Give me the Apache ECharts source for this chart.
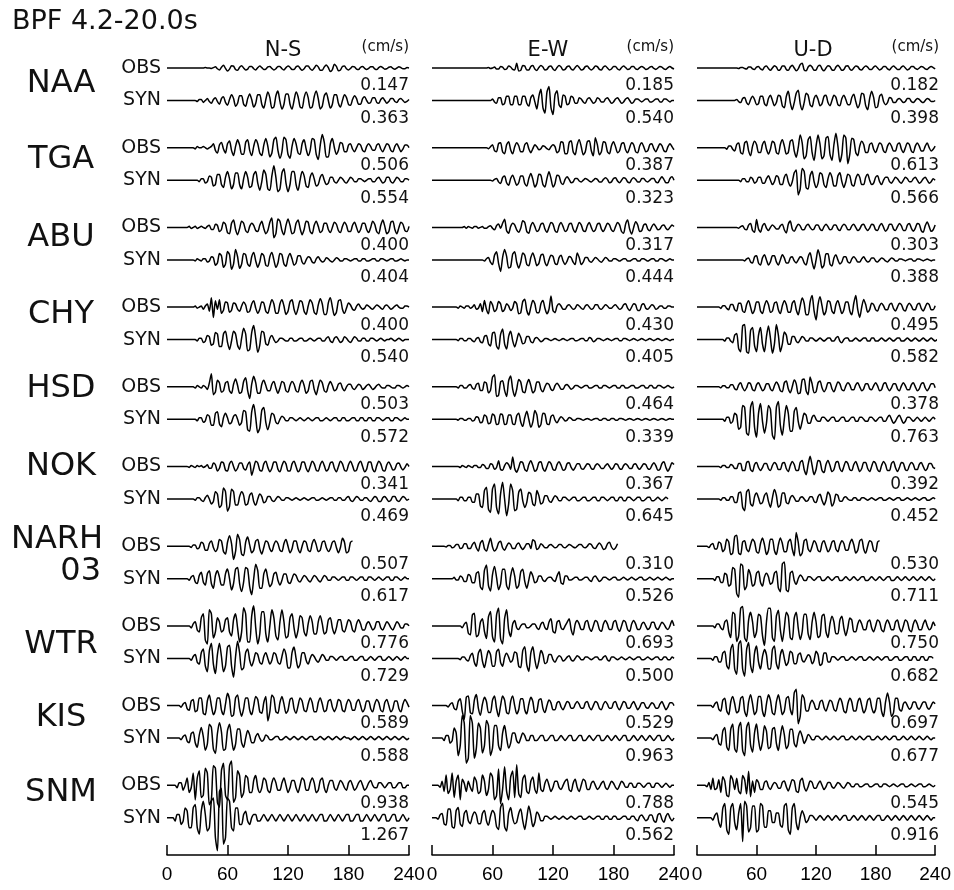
<!DOCTYPE html>
<html>
<head>
<meta charset="utf-8">
<title>BPF 4.2-20.0s</title>
<script src="https://cdn.jsdelivr.net/npm/echarts@6/dist/echarts.min.js"></script>
<style>
  html, body { margin: 0; padding: 0; background: #fff; }
  #chart { width: 954px; height: 890px; }
</style>
</head>
<body>
<div id="chart"></div>
<script>
const stations = ["NAA", "TGA", "ABU", "CHY", "HSD", "NOK", "NARH 03", "WTR", "KIS", "SNM"];
const components = ["N-S", "E-W", "U-D"];
const tickValues = [0, 60, 120, 180, 240];
const sampleStep = 2; // seconds between samples

// peak velocity of each trace (cm/s)
const nsObsPeak = [0.147, 0.506, 0.400, 0.400, 0.503, 0.341, 0.507, 0.776, 0.589, 0.938];
const nsSynPeak = [0.363, 0.554, 0.404, 0.540, 0.572, 0.469, 0.617, 0.729, 0.588, 1.267];
const ewObsPeak = [0.185, 0.387, 0.317, 0.430, 0.464, 0.367, 0.310, 0.693, 0.529, 0.788];
const ewSynPeak = [0.540, 0.323, 0.444, 0.405, 0.339, 0.645, 0.526, 0.500, 0.963, 0.562];
const udObsPeak = [0.182, 0.613, 0.303, 0.495, 0.378, 0.392, 0.530, 0.750, 0.697, 0.545];
const udSynPeak = [0.398, 0.566, 0.388, 0.582, 0.763, 0.452, 0.711, 0.682, 0.677, 0.916];

// waveforms, one sample every 2 s, in tenths of the trace peak
const nsObs = [
  [0,0,0,0,0,0,0,0,0,0,0,0,0,0,0,0,0,0,0,1,0,0,-1,1,3,-2,-5,2,7,-1,-8,-3,6,5,-4,-6,2,6,0,-5,-3,4,4,-2,-5,1,5,1,-4,-3,3,4,-1,-5,-2,4,4,-2,-5,1,5,2,-4,-4,3,5,-1,-6,-2,5,5,-2,-6,0,7,3,-6,-6,3,8,1,-9,-4,10,4,-7,-5,4,5,-2,-5,-1,4,3,-3,-4,2,4,-1,-4,-1,3,3,-2,-4,1,4,1,-3,-2,2,3,-1,-3,0,3,1,-2,-2,1,0],
  [0,0,0,0,0,0,0,0,0,0,0,0,0,0,-1,1,0,0,1,0,-1,0,1,3,-2,-4,2,4,-1,-4,3,5,-2,-6,1,6,2,-5,-5,4,6,-2,-6,1,6,3,-4,-6,2,7,1,-7,-4,6,8,-2,-8,-3,8,6,-5,-8,1,7,3,-4,-5,3,6,-1,-6,-2,7,6,-5,-9,2,10,4,-7,-7,3,7,0,-5,-2,4,3,-3,-3,2,3,-1,-3,0,3,2,-2,-3,1,3,1,-2,-2,2,3,-1,-3,0,3,2,-2,-3,1,3,0,-3,-1,2,2,0],
  [0,0,0,0,0,0,0,0,0,0,0,1,-1,0,1,-1,0,1,0,-1,1,2,-2,-2,3,2,-4,-2,5,3,-5,-6,4,7,-2,-7,-1,6,4,-3,-5,1,4,2,-3,-4,2,6,-1,-6,-3,5,9,-10,-6,8,6,-3,-7,2,8,2,-6,-5,4,7,-1,-7,-2,6,5,-4,-6,2,6,1,-5,-3,4,4,-2,-5,0,5,3,-3,-5,1,5,2,-4,-4,2,5,0,-5,-2,4,4,-2,-5,0,6,3,-4,-6,2,7,1,-6,-4,5,6,-2,-6,0,5,3,-3,-4,1],
  [0,0,0,0,0,0,0,0,0,0,0,0,0,0,1,-1,0,1,-2,1,3,-4,9,-10,6,-2,7,-6,-3,5,4,-5,-3,4,3,-2,-4,1,5,2,-5,-4,3,6,-1,-6,-2,5,4,-4,-6,1,7,3,-6,-6,3,7,1,-7,-4,5,7,-2,-7,-1,6,5,-4,-7,1,7,4,-5,-7,2,8,3,-7,-7,4,9,0,-8,-5,6,7,-2,-6,-1,4,2,-2,-3,1,3,0,-2,-1,2,1,-1,-2,0,2,1,-1,-2,1,2,0,-2,-1,1,2,0,-1,-1,1,1,0],
  [0,0,0,0,0,0,0,0,0,0,0,0,0,0,-1,1,0,-1,1,0,-2,3,10,-6,-4,5,3,-4,-3,3,4,-3,-5,2,6,1,-5,-4,4,7,-3,-9,2,8,3,-5,-5,2,5,1,-3,-3,2,4,-1,-5,-1,4,3,-3,-4,1,4,2,-3,-4,2,5,1,-5,-3,4,5,-2,-6,0,5,3,-3,-4,1,4,1,-3,-2,2,3,-1,-3,0,2,2,-1,-2,0,2,1,-2,-1,1,2,0,-2,-1,1,2,0,-1,-1,1,1,0,-1,-1,1,1,0,-1,0,1,0],
  [0,0,0,0,0,0,0,0,0,0,0,-1,1,0,-1,1,0,1,-1,0,2,-2,-2,4,2,-5,-2,5,4,-4,-5,3,6,0,-5,-2,4,4,-2,-4,2,5,-10,-2,6,4,-4,-5,3,6,-1,-6,-2,5,5,-3,-6,1,6,3,-5,-5,3,6,0,-6,-3,5,5,-2,-6,0,6,3,-4,-5,2,6,1,-5,-3,4,5,-2,-6,0,6,3,-4,-5,2,6,1,-5,-4,3,6,0,-6,-3,5,5,-3,-6,1,6,3,-4,-5,2,5,1,-4,-3,3,4,-1,-4,-1,3,0],
  [0,0,0,0,0,0,0,0,0,0,0,0,-1,1,1,-2,-1,3,2,-3,-3,2,4,-1,-4,-2,5,4,-4,-6,3,8,2,-10,-4,9,5,-6,-7,3,7,1,-5,-3,4,5,-2,-6,-1,4,3,-2,-4,1,4,2,-3,-4,2,5,0,-5,-2,4,4,-2,-5,0,4,3,-3,-4,2,5,1,-4,-3,3,4,-1,-4,-2,3,4,-1,-5,-1,6,3,-5,-4,3,4],
  [0,0,0,0,0,0,0,0,0,0,0,0,-1,1,2,-2,-3,4,6,-7,-9,8,6,-6,-3,4,2,-3,-2,3,4,-3,-5,3,6,-1,-8,-3,9,6,-8,-8,5,10,-1,-9,-4,7,7,-4,-8,0,8,4,-5,-7,2,8,2,-6,-5,4,6,-1,-6,-2,5,4,-3,-5,1,5,2,-4,-4,2,5,1,-4,-3,3,4,-1,-4,-1,3,3,-2,-3,0,3,2,-2,-3,1,3,1,-2,-2,1,2,0,-2,-1,2,2,-1,-2,0,2,1,-1,-2,0,2,1,-1,-1,1,1,0],
  [0,0,0,0,0,0,0,-1,1,2,-2,-3,3,4,-4,-3,5,5,-5,-6,3,7,0,-6,-3,5,5,-3,-6,1,8,4,-7,-6,5,7,-2,-7,-2,5,5,-3,-6,0,6,4,-4,-5,2,6,-10,-4,7,5,-4,-5,2,6,1,-5,-3,4,5,-2,-5,0,5,3,-3,-4,1,5,2,-4,-4,2,5,1,-4,-3,3,4,-1,-4,-1,4,3,-3,-4,1,4,2,-3,-3,2,4,0,-4,-2,3,3,-2,-4,1,4,2,-3,-4,2,4,0,-4,-2,3,3,-2,-4,1,4,2,-1],
  [0,0,0,0,0,-1,1,1,-2,0,3,-3,-1,5,-6,3,6,-5,-4,7,5,-8,-6,8,7,-7,-9,6,9,-4,-6,8,10,-7,-5,6,4,-5,-3,4,3,-3,-3,2,4,-1,-3,-1,3,2,-2,-3,1,3,1,-2,-2,1,3,0,-3,-1,2,2,-1,-3,0,3,2,-2,-2,1,3,1,-3,-2,2,3,-1,-3,0,2,2,-1,-2,0,2,1,-1,-2,1,2,0,-2,-1,1,2,0,-2,-1,1,2,0,-1,-1,1,1,0,-1,0,1,1,-1,-1,0,1,1,-1,-1,0,0]
];
const nsSyn = [
  [0,0,0,0,0,0,0,0,0,0,0,0,0,0,0,-1,1,1,-2,0,2,-1,-3,1,3,-1,-4,2,4,-2,-5,1,6,2,-6,-3,5,5,-4,-6,2,7,1,-7,-3,6,6,-4,-8,1,9,3,-8,-7,5,10,-1,-9,-4,7,7,-4,-9,0,9,4,-7,-8,3,9,3,-8,-7,4,10,2,-9,-6,5,8,0,-8,-4,6,6,-3,-7,0,6,3,-4,-5,1,5,2,-4,-4,2,4,0,-3,-2,3,3,-2,-3,1,3,0,-3,-1,2,2,-1,-2,1,2,0,-2,-1,1],
  [0,0,0,0,0,0,0,0,0,0,0,0,0,0,0,0,-1,1,1,-2,-1,3,2,-4,-3,4,4,-3,-5,2,6,1,-6,-3,5,5,-3,-6,1,6,2,-5,-4,4,6,-2,-7,-1,7,4,-6,-7,3,10,2,-8,-6,5,8,-2,-8,-3,6,6,-3,-7,0,6,3,-4,-5,2,5,1,-4,-3,2,4,0,-3,-2,2,2,-1,-2,0,2,1,-1,-2,0,2,1,-1,-1,1,1,0,-1,0,1,1,-1,-1,1,2,0,-2,-1,2,2,-1,-2,0,2,1,-1,-1,1,1,0],
  [0,0,0,0,0,0,0,0,0,0,0,0,0,0,-1,1,0,-1,1,1,-2,-1,3,2,-5,-3,6,4,-7,-4,8,5,-9,-4,10,3,-8,-4,6,5,-4,-6,3,7,-1,-7,-2,6,4,-5,-6,3,7,0,-7,-3,6,5,-4,-6,2,6,1,-5,-3,4,4,-2,-4,0,3,2,-2,-3,1,3,0,-2,-1,2,1,-1,-2,0,2,1,-1,-1,1,1,0,-1,0,1,1,-1,-1,1,1,-1,-1,0,1,1,-1,-1,1,1,0,-1,0,1,1,-1,-1,0,1,0,-1,0,0],
  [0,0,0,0,0,0,0,0,0,0,0,0,0,0,0,-1,1,1,-2,-1,3,2,-4,-3,5,4,-5,-5,4,6,-2,-7,-1,6,4,-4,-7,1,8,4,-8,-7,5,10,1,-9,-4,6,5,-3,-4,1,3,0,-2,-1,1,1,0,-1,-1,1,1,-1,-1,0,1,1,-1,-1,0,1,0,-1,0,1,1,-1,-1,1,2,-1,-2,1,2,0,-2,-1,2,1,-1,-2,0,2,1,-1,-1,1,1,-1,-1,1,1,0,-1,0,1,0,-1,0,0,1,0,-1,0,1,0,-1,0,0,0],
  [0,0,0,0,0,0,0,0,0,0,0,0,0,0,0,-1,1,1,-2,-1,3,2,-4,-4,4,5,-3,-5,1,4,1,-3,-2,2,3,0,-4,-2,6,5,-7,-8,5,10,1,-9,-6,6,8,-2,-7,-2,4,3,-2,-3,0,2,1,-1,-1,1,1,0,-1,0,1,0,-1,0,1,0,-1,0,1,1,-1,-1,0,1,0,-1,0,1,1,-1,-1,1,1,-1,-1,0,1,1,-1,-1,1,1,-1,-1,1,1,-1,-1,1,1,0,-1,0,1,1,-1,-1,1,1,0,-1,0,1,0,0],
  [0,0,0,0,0,0,0,0,0,0,0,0,0,0,-1,1,1,-1,-2,1,3,0,-4,-2,6,4,-7,-5,9,6,-10,-6,8,6,-5,-5,2,6,3,-5,-4,3,5,-2,-5,0,4,2,-3,-2,2,2,-1,-2,0,2,1,-1,-1,1,1,0,-1,0,1,0,-1,0,1,0,-1,0,1,1,-1,-1,0,1,0,-1,0,1,1,-1,-1,1,1,-1,-1,1,2,-1,-2,0,2,1,-1,-1,1,1,-1,-2,0,2,1,-2,-2,1,2,0,-2,-1,2,2,-1,-2,0,2,1,-1,0],
  [0,0,0,0,0,0,0,0,0,0,0,-1,1,2,-2,-3,2,4,-2,-4,3,5,-3,-6,2,5,1,-4,-4,3,6,0,-7,-3,6,7,-3,-8,-2,7,6,-5,-10,0,9,5,-6,-6,3,6,0,-5,-3,3,4,-1,-4,-1,3,3,-2,-3,0,3,2,-1,-2,0,2,1,-1,-2,0,2,1,-1,-2,0,2,1,-1,-1,1,1,0,-1,0,1,1,-1,-1,1,1,0,-1,0,1,1,-1,-1,1,1,0,-1,0,1,0,-1,0,1,1,-1,-1,1,1,0,-1,0,1,0,0],
  [0,0,0,0,0,0,0,0,0,0,0,0,-1,1,2,-2,-3,3,5,-4,-7,4,8,-3,-8,2,8,1,-7,-4,6,7,-4,-10,1,9,3,-6,-5,3,5,-1,-4,-1,3,2,-2,-3,1,3,0,-3,-1,3,2,-2,-3,1,5,2,-5,-5,3,6,0,-5,-3,3,3,-1,-3,0,2,1,-1,-2,0,2,1,-1,-1,1,1,0,-1,0,1,1,-1,-1,0,1,1,-1,-1,0,1,1,-1,-1,0,1,0,-1,0,1,1,-1,-1,0,1,0,-1,0,1,0,-1,0,1,0,0],
  [0,0,0,0,0,0,0,-1,1,2,-2,-3,3,4,-3,-6,2,7,1,-8,-4,9,7,-7,-10,3,10,4,-8,-7,5,9,0,-8,-4,6,6,-3,-6,0,5,2,-3,-3,1,3,0,-2,-1,2,1,-1,-1,0,1,1,-1,-1,0,1,0,-1,0,1,0,-1,0,1,0,-1,0,1,1,-1,-1,0,1,0,-1,0,1,0,-1,0,1,0,-1,0,1,0,0,-1,0,1,0,-1,0,1,0,-1,0,1,0,-1,0,1,0,-1,0,1,0,-1,0,1,0,-1,0,1,0,-1,0],
  [0,0,0,0,-1,1,1,-2,-1,3,2,-3,-3,3,4,-3,-5,2,5,1,-4,-3,5,6,-6,-10,8,9,-8,-6,6,5,-3,-4,3,3,-2,-2,1,2,-1,-2,0,1,1,-1,-1,0,1,0,-1,0,1,0,-1,0,1,0,-1,0,1,0,-1,0,1,0,-1,0,1,0,-1,0,1,0,-1,0,1,1,-1,-1,0,1,0,-1,0,1,0,-1,0,1,1,-1,-1,0,1,1,-1,-1,0,1,0,-1,0,1,0,-1,0,1,1,-1,-1,0,1,1,-1,-1,0,1,0,-1,0]
];
const ewObs = [
  [0,0,0,0,0,0,0,0,0,0,0,0,0,0,0,0,0,0,0,0,0,0,0,0,0,0,0,0,1,-1,0,2,-2,-2,3,2,-3,-2,4,2,-3,-4,10,-6,-5,5,4,-4,-4,3,5,-2,-5,1,5,2,-4,-3,3,4,-2,-5,1,5,2,-4,-3,3,4,-2,-4,1,5,1,-4,-3,3,4,-1,-4,-1,4,3,-3,-4,2,4,0,-4,-2,3,3,-2,-4,1,4,1,-3,-2,3,3,-2,-3,1,3,1,-3,-2,2,3,-1,-3,0,3,2,-2,-3,1,3,0,-2],
  [0,0,0,0,0,0,0,0,0,0,0,0,0,0,0,0,0,0,0,0,0,0,0,0,0,0,0,0,-1,1,3,-3,-4,4,5,-4,-6,3,6,-2,-6,1,5,2,-4,-4,3,5,-1,-5,-1,3,1,-2,-1,2,1,-1,-2,1,3,1,-5,-3,6,5,-6,-6,5,7,-4,-7,3,8,1,-7,-4,6,7,-3,-8,10,3,-7,-4,6,5,-4,-6,2,6,1,-5,-3,4,5,-2,-5,0,5,3,-4,-5,2,5,1,-4,-3,3,4,-1,-4,0,4,2,-3,-4,1,4,1,-2],
  [0,0,0,0,0,0,0,0,0,0,0,0,0,0,0,0,1,-1,1,0,-1,1,1,-1,0,1,-1,-1,1,2,-1,-3,2,4,-1,5,10,-4,-7,1,5,3,-3,-6,-1,8,6,-5,-7,2,6,1,-5,-3,4,5,-2,-6,0,6,4,-4,-6,2,6,1,-5,-3,4,5,-2,-6,0,6,3,-4,-5,2,6,0,-5,-3,4,5,-2,-5,0,5,3,-3,-5,1,6,3,-5,-7,4,9,-2,-8,0,7,3,-5,-4,3,4,-2,-4,1,4,1,-3,-2,2,3,-1,-3,0,3,1],
  [0,0,0,0,0,0,0,0,0,0,0,0,0,-1,1,0,-1,1,1,-1,0,2,-2,-1,3,-4,6,-2,-6,5,2,-4,-2,5,3,-4,-2,3,1,-3,-1,5,3,-6,-5,5,7,-3,-7,0,6,3,-5,-5,3,6,-1,-6,-2,10,-3,-5,1,3,1,-2,-2,1,2,0,-2,-1,2,1,-1,-2,1,2,0,-2,-1,2,2,-1,-2,0,2,1,-1,-1,1,2,0,-2,-1,2,3,-1,-3,0,3,2,-3,-3,2,3,-1,-2,0,2,1,-2,-1,1,1,-1,-1,1,1,0,0],
  [0,0,0,0,0,0,0,0,0,0,0,0,0,-1,1,1,-1,-1,1,2,-1,-2,2,3,-3,-3,4,3,-5,-3,8,10,-8,-7,4,5,-3,-8,5,9,-2,-8,-2,6,4,-4,-5,2,6,1,-5,-3,4,4,-2,-4,0,3,2,-2,-3,1,3,1,-2,-2,1,2,0,-2,-1,1,1,0,-1,0,1,1,-1,-1,0,1,1,-1,-1,1,1,0,-1,0,1,1,-1,-1,1,1,-1,-1,0,1,1,-1,-1,0,1,1,-1,-1,1,1,-1,-1,1,1,0,-1,0,1,0,-1,0],
  [0,0,0,0,0,0,0,0,0,0,0,0,0,0,-1,1,0,-1,1,0,-1,1,1,-1,-1,2,1,-2,-2,3,2,-3,-1,6,-3,-4,1,4,2,-3,10,-2,-6,-1,5,4,-3,-5,2,6,1,-5,-3,4,5,-2,-5,0,5,3,-3,-4,2,5,1,-4,-3,3,4,-1,-4,-1,3,3,-2,-3,0,3,2,-2,-3,1,3,1,-2,-2,1,3,0,-3,-1,3,2,-2,-3,1,3,1,-2,-2,2,3,-1,-3,0,3,2,-2,-3,1,4,1,-4,-3,3,5,-1,-5,-1,4,2],
  [0,0,0,0,0,0,0,-1,1,1,-2,-1,2,2,-3,-2,3,3,-3,-3,2,5,-2,-6,4,7,-3,-6,2,10,-1,-6,-3,4,6,-2,-5,0,4,2,-3,-3,2,4,-1,-4,-1,3,3,-3,8,6,-4,-2,3,1,-2,-2,1,2,0,-2,-1,2,2,-1,-2,0,2,1,-1,-2,0,2,2,-1,-2,0,3,2,-2,-3,1,4,1,-4,-3,3,5,-1,-4,-2,3],
  [0,0,0,0,0,0,0,0,0,0,0,0,0,0,0,-1,1,2,-4,-5,6,7,-6,-5,2,4,-3,-7,5,8,-6,-9,6,10,-7,-10,4,9,-2,-6,1,3,-1,-2,0,1,1,-1,-1,0,1,1,-1,-2,1,2,-1,-2,2,4,-3,-4,2,3,-1,-2,0,2,4,-2,-5,1,3,1,-2,-2,2,3,-1,-3,0,3,2,-2,-3,1,3,1,-2,-2,2,3,-1,-3,0,3,2,-2,-3,1,3,1,-2,-2,1,2,0,-2,-1,2,2,-1,-2,0,2,1,-1,-2,0,3,0],
  [0,0,0,0,0,0,0,0,-1,1,2,-2,-3,3,5,-4,-10,6,7,-5,-6,4,8,-2,-7,1,6,3,-5,-5,4,7,-2,-8,0,7,4,-5,-6,3,7,0,-6,-3,5,5,-3,-6,1,6,3,-5,-4,4,5,-2,-5,0,4,2,-3,-3,2,3,-1,-3,0,3,2,-2,-2,1,3,1,-2,-2,2,3,-1,-3,0,3,2,-2,-3,1,3,1,-2,-2,2,3,-1,-3,0,3,2,-2,-2,1,3,0,-3,-1,2,2,-1,-2,0,2,1,-2,-2,1,3,0,-3,-1,2,2,0],
  [0,0,0,0,-1,2,-3,5,-4,-2,6,-6,2,5,-7,3,1,-3,2,-1,-3,4,2,-4,-3,5,2,-5,-2,6,4,-7,-5,8,-9,-2,9,-3,-7,4,7,-6,10,-4,-6,3,5,-3,-4,2,4,-2,-4,6,-2,-3,1,3,0,-3,-1,2,2,-1,-2,0,2,3,-2,-3,1,3,-1,-3,0,3,2,-2,-2,1,2,0,-2,-1,1,2,-1,-2,0,2,1,-1,-2,0,2,1,-1,-1,1,1,-1,-1,1,1,0,-1,0,1,1,-1,-1,1,1,0,-1,0,1,0,-1,0,0]
];
const ewSyn = [
  [0,0,0,0,0,0,0,0,0,0,0,0,0,0,0,0,0,0,0,0,0,0,0,0,0,0,0,0,0,0,1,-1,-2,2,2,-3,-2,3,3,-3,-3,3,3,-3,-3,3,3,-2,-4,2,4,-1,-6,3,8,-5,-9,6,10,-5,-10,4,7,-3,-5,4,3,-3,-2,3,2,-2,-2,2,1,-1,-2,1,2,0,-2,-1,2,1,-1,-1,1,2,0,-2,-1,1,2,0,-2,-1,1,2,0,-2,-1,1,1,0,-1,0,1,1,-1,-1,0,1,1,-1,-1,1,1,0,-1,0,0],
  [0,0,0,0,0,0,0,0,0,0,0,0,0,0,0,0,0,0,0,0,0,0,0,0,0,0,0,0,0,0,-1,1,2,-2,-4,3,5,-3,-6,2,6,0,-6,-3,5,5,-4,-7,2,8,1,-8,-4,7,6,-5,-8,2,10,2,-8,-4,6,5,-3,-5,1,4,1,-3,-2,2,2,-1,-2,0,2,1,-1,-2,0,2,1,-2,-2,1,3,1,-3,-2,2,3,-1,-3,0,3,2,-2,-3,1,3,1,-2,-2,2,2,-1,-2,0,2,2,-2,-3,1,4,1,-3,-3,2,4,0],
  [0,0,0,0,0,0,0,0,0,0,0,0,0,0,0,0,0,0,0,0,0,0,0,0,0,0,-1,1,2,-2,-4,4,7,-3,-10,2,9,3,-7,-6,5,7,-2,-7,-2,6,4,-4,-5,2,6,1,-5,-3,4,5,-2,-5,0,4,3,-3,-4,2,4,-1,-4,-1,3,2,-2,-4,6,2,-4,-2,2,2,-1,-2,0,2,1,-1,-2,0,2,1,-1,-1,1,1,0,-1,0,1,1,-1,-1,0,1,1,-1,-1,1,1,0,-1,0,1,1,-1,-1,1,1,0,-1,0,1,0,0],
  [0,0,0,0,0,0,0,0,0,0,0,0,0,-1,1,1,-1,-1,1,1,-1,-2,1,2,-2,-3,3,4,-4,-6,6,7,-6,-9,5,10,-4,-9,3,8,-1,-7,-1,6,2,-4,-3,3,3,-2,-3,1,2,0,-2,-1,1,1,0,-1,0,1,0,-1,0,1,0,-1,0,1,1,-1,-1,0,1,1,-1,-1,2,1,-2,-1,1,1,0,-1,0,1,0,-1,0,1,1,-1,-1,1,1,0,-1,0,1,0,-1,0,1,0,-1,0,1,0,-1,0,1,0,-1,0,1,0,-1,0,0],
  [0,0,0,0,0,0,0,0,0,0,0,0,0,-1,1,1,-1,-1,1,1,-2,-1,3,2,-4,-3,5,3,-5,-4,6,4,-6,-5,6,5,-6,-5,5,5,-5,-6,4,7,-3,-8,2,9,0,-9,-3,10,5,-9,-6,7,6,-5,-6,3,5,-1,-4,0,3,1,-2,-1,2,1,-1,-1,1,1,0,-1,0,1,0,-1,0,1,1,-1,-1,1,1,-1,-1,1,1,-1,-1,1,1,0,-1,0,1,0,-1,0,1,0,-1,0,1,0,-1,0,1,0,-1,0,1,0,-1,0,1,0,0],
  [0,0,0,0,0,0,0,0,0,0,0,0,0,-1,1,1,-1,-1,1,1,-2,-2,3,3,-4,-5,5,7,-6,-8,6,9,-5,-9,3,10,0,-10,-3,9,5,-7,-6,4,6,-1,-5,-2,4,3,-3,-4,5,2,-3,-2,2,2,-1,-2,0,2,1,-1,-1,1,1,0,-1,0,1,1,-1,-1,0,1,1,-1,-1,0,1,1,-1,-1,1,1,0,-1,0,1,1,-1,-1,1,1,-1,-1,1,1,0,-1,0,1,1,-1,-1,0,1,1,-1,-1,0,1,0,-1,0,1,0],
  [0,0,0,0,0,0,0,0,0,0,0,1,-1,-1,2,1,-2,-2,3,2,-3,-3,4,5,-6,-8,6,10,-5,-9,3,9,1,-8,-4,7,7,-5,-8,2,8,2,-7,-5,5,7,-2,-7,-1,5,2,-3,-2,2,2,-1,-2,0,1,1,-1,-2,2,5,-3,-4,2,2,-1,-1,0,1,1,-1,-1,0,1,1,-1,-2,1,2,0,-2,-1,1,1,0,-1,0,1,1,-1,-1,0,1,0,-1,0,1,0,-1,0,1,1,-1,-1,0,1,0,-1,0,1,0,-1,0,1,0,-1,0,0],
  [0,0,0,0,0,0,0,0,0,0,0,0,0,0,-1,1,1,-1,-2,2,4,-3,-6,4,7,-2,-7,0,6,3,-6,-6,5,7,-3,-6,1,4,1,-3,-1,5,4,-6,-7,6,9,-5,-10,4,9,-1,-8,-2,6,3,-4,-3,3,3,-1,-3,0,2,1,-2,-1,1,2,-1,-2,0,2,1,-1,-1,1,1,0,-1,0,1,1,-1,-1,1,2,-1,-2,1,1,0,-1,0,1,0,-1,0,1,0,-1,0,1,1,-1,-1,0,1,0,-1,0,1,1,-1,-1,1,1,-1,-1,1,0],
  [0,0,0,0,0,0,-1,1,1,-2,-1,4,2,-7,-3,9,6,-10,-8,9,6,-8,-4,6,4,-6,-3,7,5,-7,-4,5,5,-3,-5,2,5,0,-4,-2,2,2,-1,-2,0,2,1,-1,-1,1,1,-1,-1,0,1,1,-1,-1,0,1,1,-1,-1,0,1,0,-1,0,1,1,-1,-1,0,1,1,-1,-1,0,1,0,-1,0,1,1,-1,-1,0,1,0,-1,0,1,0,-1,0,1,1,-1,-1,0,1,0,-1,0,1,0,-1,0,1,0,-1,0,1,1,-1,-1,0,1,0,-1,0],
  [0,0,0,-1,2,3,-4,-5,6,6,-6,-7,5,7,-4,-6,3,5,-2,-4,1,4,2,-4,-4,3,5,-2,-5,1,5,3,-6,-8,7,10,-6,-9,3,7,0,-4,-3,3,6,-2,-8,0,8,2,-6,-3,4,2,-2,-2,1,1,0,-1,0,1,0,-1,0,1,0,-1,0,1,0,-1,0,1,1,-1,-1,0,1,0,-1,0,1,1,-1,-1,1,1,-1,-1,1,1,-1,-1,0,1,1,-1,-1,1,1,-1,-2,1,2,0,-2,-1,2,2,-2,-3,2,3,-1,-3,1,3,0,-2,0]
];
const udObs = [
  [0,0,0,0,0,0,0,0,0,0,0,0,0,0,0,0,0,0,0,0,0,-1,1,1,-1,-2,2,2,-2,-3,2,3,-2,-4,2,4,-1,-5,0,5,2,-5,-3,4,4,-3,-5,2,6,0,-6,-2,7,10,-4,-6,2,6,2,-5,-4,4,6,-2,-6,0,5,3,-4,-5,2,6,1,-5,-3,4,5,-2,-5,0,4,3,-3,-4,1,4,2,-3,-3,2,4,0,-4,-2,3,3,-2,-4,1,4,1,-3,-3,2,4,0,-4,-2,3,3,-1,-3,0,3,2,-2,-3,1,3,1,-2],
  [0,0,0,0,0,0,0,0,0,0,0,0,0,0,0,-1,1,1,-1,-2,2,3,-3,-4,3,4,-2,-5,1,4,2,-3,-3,2,4,-1,-4,-1,4,3,-3,-4,2,5,1,-4,-3,4,5,-2,-6,0,8,3,-7,-5,5,7,-3,-8,1,8,2,-7,-5,6,7,-4,-8,2,9,1,-9,-4,8,6,-10,-4,6,5,-3,-5,1,4,2,-3,-3,2,3,-1,-3,0,3,2,-2,-3,1,3,1,-2,-2,2,3,-1,-3,0,3,2,-2,-3,1,3,1,-2,-2,1,3,0,-2,-1,1],
  [0,0,0,0,0,0,0,0,0,0,0,0,0,0,0,0,0,0,0,0,0,-1,1,2,-2,-3,3,5,-4,-6,10,-2,-6,2,5,-1,-4,0,3,1,-2,-2,2,4,-3,-7,4,8,-2,-5,0,4,2,-3,-3,2,4,0,-3,-2,3,3,-2,-4,1,4,1,-3,-2,3,3,-2,-4,1,4,2,-3,-3,2,4,0,-4,-2,3,4,-1,-4,-1,4,3,-3,-4,2,5,0,-5,-2,4,4,-2,-4,1,5,2,-4,-4,3,5,-1,-5,-1,5,4,-4,-6,2,7,1,-5,-3,3],
  [0,0,0,0,0,0,0,0,0,0,0,0,-1,1,1,-1,-2,2,2,-2,-3,3,3,-3,-4,2,5,0,-5,-2,4,4,-3,-5,1,5,2,-4,-3,3,4,-2,-5,1,5,2,-4,-4,3,5,-2,-6,1,7,3,-6,-6,4,9,-3,-10,2,8,1,-6,-3,5,4,-3,-5,2,5,0,-5,-2,4,4,-3,-6,3,9,-2,-8,0,6,2,-4,-2,3,2,-2,-3,1,3,1,-2,-2,2,3,-1,-3,0,3,2,-2,-3,1,3,1,-2,-2,2,3,-1,-3,0,3,2,-2,-2,1],
  [0,0,0,0,0,0,0,0,0,0,0,0,-1,1,1,-1,-1,2,2,-2,-3,2,4,-1,-4,-1,4,3,-3,-4,2,4,0,-4,-2,3,3,-2,-4,1,5,2,-4,-5,4,6,-2,-6,0,7,3,-7,-6,7,8,-4,-8,10,3,-6,-5,4,6,-1,-5,-2,4,4,-2,-5,0,5,3,-3,-4,1,4,2,-3,-3,2,4,0,-4,-2,3,3,-2,-3,1,4,1,-4,-3,3,4,-1,-4,-1,3,3,-2,-4,1,4,1,-3,-3,2,4,0,-4,-2,3,4,-1,-4,-1,3,3,-1],
  [0,0,0,0,0,0,0,0,0,0,0,0,-1,1,1,-1,-1,2,1,-2,-2,3,3,-4,-4,4,5,-3,-5,2,4,-1,-4,-1,3,3,-2,-4,1,4,2,-3,-3,3,4,-2,-5,1,5,2,-4,-4,4,6,-3,-8,2,10,1,-8,-3,6,5,-4,-6,2,6,1,-5,-3,4,5,-2,-5,0,5,3,-3,-4,2,5,0,-5,-2,4,4,-2,-5,0,5,3,-3,-5,1,5,2,-4,-4,3,5,-1,-5,-1,4,3,-3,-4,1,4,2,-3,-3,2,4,0,-4,-2,3,3,-1,-2],
  [0,0,0,0,0,0,-1,1,2,-2,-2,3,2,-4,-2,5,3,-6,-5,7,8,-5,-6,3,4,-2,-4,1,5,3,-4,-5,2,6,1,-6,-3,5,5,-3,-6,1,6,2,-4,-4,3,5,-2,-7,10,3,-7,-5,4,5,-2,-4,0,4,2,-3,-4,2,4,0,-4,-2,3,4,-2,-4,1,4,2,-3,-3,2,5,1,-5,-3,4,5,-2,-5,0,4,3,-3,-4,3,4],
  [0,0,0,0,0,0,0,0,0,-1,1,1,-1,-2,2,3,-3,-6,7,6,-8,-5,9,10,-6,-8,3,7,2,-6,-3,6,5,-5,-10,2,9,9,-6,-8,5,8,-2,-8,-1,7,5,-6,-7,4,7,-1,-7,-3,6,6,-4,-7,2,7,2,-6,-5,5,6,-3,-6,1,5,2,-4,-4,3,5,-1,-5,-1,4,3,-3,-3,1,3,1,-2,-2,2,3,-1,-3,0,3,2,-2,-3,1,3,1,-2,-2,2,3,-1,-3,0,3,2,-2,-3,1,3,1,-2,-2,1,3,0,-2,-1,2,0],
  [0,0,0,0,0,0,0,0,-1,1,2,-2,-3,3,4,-3,-5,2,5,1,-4,-3,4,5,-3,-6,2,6,1,-5,-3,5,5,-3,-6,1,6,3,-4,-5,2,6,1,-5,-3,4,5,-2,-5,7,9,-10,-6,6,4,-3,-3,1,3,1,-2,-2,2,3,-1,-3,0,3,2,-2,-3,1,4,2,-3,-4,1,4,2,-3,-3,2,4,0,-4,-2,3,4,-1,-4,-2,4,4,-3,-6,2,7,2,-6,-4,4,4,-2,-3,1,2,0,-2,-1,2,2,-1,-2,0,2,2,-1,-2,0,2,1],
  [0,0,0,0,0,-1,2,-3,5,-3,-2,4,-5,6,3,-7,-8,7,4,-3,5,-4,-6,7,4,-6,10,-8,3,-5,4,2,-3,-3,2,3,-1,-3,0,2,1,-2,-2,2,3,-1,-4,0,4,3,-4,-5,3,5,-1,-4,-1,3,2,-2,-2,1,3,0,-3,-1,2,2,-1,-2,0,2,1,-1,-2,0,2,1,-1,-1,1,1,-1,-1,0,1,1,-1,-1,0,1,1,-1,-1,1,1,0,-1,0,1,0,-1,0,1,1,-1,-1,0,1,0,-1,0,1,1,-1,-1,0,1,0,-1,0]
];
const udSyn = [
  [0,0,0,0,0,0,0,0,0,0,0,0,0,0,0,0,0,0,0,0,1,-1,-2,2,3,-2,-4,1,4,1,-4,-3,4,4,-3,-5,2,5,0,-5,-2,5,4,-5,-7,4,9,-2,-9,-2,7,10,-3,-9,-2,7,5,-4,-6,2,5,1,-5,-3,4,5,-2,-5,0,5,3,-4,-5,2,5,1,-4,-4,3,6,-1,-7,-3,7,6,-5,-9,2,9,3,-7,-6,4,6,-1,-4,-2,3,2,-2,-2,1,2,0,-2,-1,2,2,-1,-2,0,2,1,-1,-2,0,2,1,-1,-1,0],
  [0,0,0,0,0,0,0,0,0,0,0,0,0,0,0,0,0,0,0,0,0,0,-1,1,1,-1,-1,2,1,-2,-1,2,2,-2,-2,1,3,0,-3,-1,3,2,-3,-3,2,4,-1,-4,-1,5,7,-10,-6,8,6,-5,-6,3,6,-1,-5,-2,5,4,-3,-5,1,5,2,-4,-4,3,5,-1,-5,-1,4,3,-3,-4,1,4,2,-3,-3,2,4,0,-3,-2,2,3,-1,-3,0,2,2,-1,-2,0,2,1,-1,-2,0,2,1,-1,-1,1,2,0,-2,-1,1,2,0,-2,-1,1,0],
  [0,0,0,0,0,0,0,0,0,0,0,0,0,0,0,0,0,0,0,0,0,0,0,0,-1,1,2,-2,-3,3,4,-3,-5,2,5,0,-5,-2,4,4,-2,-5,0,5,2,-3,-3,2,3,-1,-3,0,3,2,-3,-5,3,7,-2,-9,0,10,3,-8,-5,6,6,-4,-6,2,5,0,-4,-2,3,3,-2,-3,1,3,1,-2,-2,1,3,0,-2,-1,2,2,-1,-2,0,2,1,-1,-2,0,2,1,-1,-1,1,1,0,-1,0,1,1,-1,-1,1,1,0,-1,0,1,0,-1,0,0],
  [0,0,0,0,0,0,0,0,0,0,0,0,0,0,-1,1,1,-1,-2,3,4,-6,-8,9,10,-8,-9,6,8,-4,-8,3,8,-3,-8,2,9,1,-9,-3,10,3,-8,-3,5,3,-3,-3,2,2,-1,-2,0,2,1,-1,-1,1,1,0,-1,0,1,0,-1,0,1,1,-1,-1,1,2,-1,-2,0,1,1,-1,-1,0,1,0,-1,0,1,1,-1,-1,1,1,-1,-1,0,1,0,-1,0,1,0,-1,0,1,1,-1,-1,0,1,0,-1,0,1,0,-1,0,1,0,-1,0,1,0,-1,0,1,0,0],
  [0,0,0,0,0,0,0,0,0,0,0,0,0,0,-1,1,1,-2,-1,3,2,-5,-4,7,6,-7,-8,6,9,-4,-9,3,8,-1,-7,-2,7,5,-8,-10,6,9,-3,-8,0,7,3,-6,-6,4,6,-1,-5,-1,3,2,-2,-2,1,2,0,-1,-1,1,1,0,-1,0,1,1,-1,-1,0,1,1,-1,-1,0,1,1,-1,-1,1,1,0,-1,-1,1,1,0,-1,0,1,1,-1,-1,1,2,0,-2,-1,1,2,0,-2,-1,1,1,0,-1,0,1,0,-1,0,1,0,-1,0,1,0],
  [0,0,0,0,0,0,0,0,0,0,0,0,-1,1,1,-1,-1,2,2,-3,-3,5,6,-7,-10,6,8,-4,-6,2,5,1,-4,-3,3,5,-2,-7,1,8,3,-7,-5,5,5,-3,-4,1,3,1,-2,-2,1,2,0,-2,-1,2,2,-2,-3,2,4,-1,-5,-1,6,3,-6,-3,4,3,-2,-2,1,2,0,-1,-1,1,1,-1,-1,1,1,0,-1,0,1,0,-1,0,1,1,-1,-1,0,1,0,-1,0,1,1,-1,-1,0,1,0,-1,0,1,0,-1,0,1,1,-1,-1,0,1,0],
  [0,0,0,0,0,0,0,0,0,-1,1,1,-2,-2,3,2,-4,-3,6,5,-8,-10,8,7,-6,-4,5,2,-4,-3,3,4,-2,-4,1,3,1,-3,-2,3,4,-5,-7,8,9,-6,-7,3,4,-1,-3,0,2,1,-1,-1,1,1,0,-1,0,1,1,-1,-1,0,1,0,-1,0,1,1,-1,-1,0,1,0,-1,0,1,0,-1,0,1,1,-1,-1,0,1,0,-1,0,1,0,-1,0,1,1,-1,-1,0,1,0,-1,0,1,0,-1,0,1,0,-1,0,1,0,-1,0,1,0,-1,0],
  [0,0,0,0,0,0,0,0,-1,1,1,-2,-2,3,4,-4,-6,5,8,-6,-9,8,10,-6,-10,5,9,-4,-8,3,7,-2,-6,1,5,2,-6,-6,5,7,-3,-6,2,5,0,-4,-2,4,3,-3,-3,2,3,-1,-2,0,2,1,-3,-1,4,2,-4,-3,3,3,-2,-2,1,1,0,-1,0,1,1,-1,-1,0,1,0,-1,0,1,1,-1,-1,0,1,0,-1,0,1,0,-1,0,1,1,-1,-1,0,1,1,-1,-1,0,1,1,-1,-1,1,1,-1,-1,1,1,-1,-1,1,1,0],
  [0,0,0,0,0,0,0,0,-1,1,2,-3,-4,4,6,-5,-7,5,8,-6,-8,6,9,-7,-10,6,9,-4,-8,3,8,-1,-7,-2,7,4,-6,-5,5,6,-3,-7,1,7,2,-6,-4,5,5,-3,-5,1,4,1,-3,-1,2,1,-1,-1,1,1,0,-1,0,1,0,-1,0,1,0,-1,0,1,1,-1,-1,0,1,0,-1,0,1,0,-1,0,1,1,-1,-1,0,1,0,-1,0,1,0,-1,0,1,1,-1,-1,0,1,0,-1,0,1,0,-1,0,1,0,-1,0,1,0,-1,0,0],
  [0,0,0,0,0,0,0,0,-1,1,2,-2,-4,4,6,-5,-7,4,6,-2,-5,2,6,-10,7,5,-6,-4,5,5,-6,-5,6,5,-4,-4,3,3,-2,-2,2,2,-3,-4,5,6,-5,-7,4,6,-2,-5,0,3,1,-2,-1,1,1,0,-1,0,1,0,-1,0,1,0,-1,0,1,0,-1,0,1,1,-1,-1,0,1,0,-1,0,1,0,-1,0,1,0,-1,0,1,1,-1,-1,0,1,0,-1,0,1,0,-1,0,1,0,-1,0,1,0,-1,0,1,0,-1,0,1,0,-1,0,0]
];

// layout (pixels)
const colLeft = [167, 432, 697];
const colWidth = 242;
const axisY = 855;
const pxPerUnit = 26;          // px per cm/s, shared by all traces
const rowTop = 68, rowStep = 79.7, synGap = 32.5;
const nameDy = [16, 12, 10, 8, 2, 0, -7, 19, 12, 7];
const font = '"DejaVu Sans", "Liberation Sans", sans-serif';

const columns = [
  { obs: nsObs, syn: nsSyn, obsPeak: nsObsPeak, synPeak: nsSynPeak },
  { obs: ewObs, syn: ewSyn, obsPeak: ewObsPeak, synPeak: ewSynPeak },
  { obs: udObs, syn: udSyn, obsPeak: udObsPeak, synPeak: udSynPeak }
];

const chart = echarts.init(document.getElementById("chart"));

const toUnits = (px) => -px / pxPerUnit;

const grid = [], xAxis = [], yAxis = [], series = [], graphic = [];

const text = (x, y, str, size, align, family) => ({
  type: "text",
  x: x,
  y: y,
  style: {
    text: str,
    font: size + "px " + (family || font),
    fill: "#111",
    align: align,
    verticalAlign: "middle",
    textAlign: align,
    textVerticalAlign: "middle"
  }
});

columns.forEach((col, c) => {
  grid.push({ left: colLeft[c], top: 0, width: colWidth, height: axisY });
  xAxis.push({
    gridIndex: c,
    type: "value",
    position: "bottom",
    min: 0,
    max: 240,
    interval: 60,
    axisLine: { show: true, onZero: false, lineStyle: { color: "#000", width: 1.5 } },
    axisTick: {
      show: true,
      inside: true,
      length: 10,
      customValues: tickValues,
      lineStyle: { color: "#000", width: 1.5 }
    },
    axisLabel: {
      customValues: tickValues,
      showMinLabel: true,
      showMaxLabel: true,
      color: "#000",
      fontFamily: "Liberation Sans",
      fontSize: 19,
      margin: 10
    },
    splitLine: { show: false }
  });
  yAxis.push({
    gridIndex: c,
    type: "value",
    min: toUnits(axisY),
    max: 0,
    show: false
  });

  stations.forEach((name, i) => {
    const rows = [
      { y: rowTop + rowStep * i, trace: col.obs[i], peak: col.obsPeak[i] },
      { y: rowTop + rowStep * i + synGap, trace: col.syn[i], peak: col.synPeak[i] }
    ];
    rows.forEach((r) => {
      const base = toUnits(r.y);
      series.push({
        type: "line",
        xAxisIndex: c,
        yAxisIndex: c,
        data: r.trace.map((v, k) => [k * sampleStep, base + (v / 10) * r.peak]),
        showSymbol: false,
        smooth: 0.25,
        clip: false,
        silent: true,
        lineStyle: { color: "#000", width: 1.5 }
      });
      graphic.push(text(colLeft[c] + colWidth, r.y + 18, r.peak.toFixed(3), 17, "right"));
    });
  });

  graphic.push(text(colLeft[c] + 116, 51, components[c], 21, "center"));
  graphic.push(text(colLeft[c] + colWidth, 47, "(cm/s)", 15, "right"));
});

// station names and OBS / SYN tags
stations.forEach((name, i) => {
  const obsY = rowTop + rowStep * i;
  const parts = name.split(" ");
  if (parts.length > 1) {
    graphic.push(text(57, obsY + nameDy[i], parts[0], 32, "center"));
    graphic.push(text(101, obsY + synGap - 7, parts[1], 32, "right"));
  } else {
    graphic.push(text(61, obsY + nameDy[i], name, 32, "center"));
  }
  graphic.push(text(161, obsY, "OBS", 19, "right"));
  graphic.push(text(161, obsY + synGap, "SYN", 19, "right"));
});

graphic.push(text(12, 22, "BPF 4.2-20.0s", 27, "left"));

chart.setOption({
  animation: false,
  backgroundColor: "#fff",
  grid: grid,
  xAxis: xAxis,
  yAxis: yAxis,
  series: series,
  graphic: graphic
});
</script>
</body>
</html>
